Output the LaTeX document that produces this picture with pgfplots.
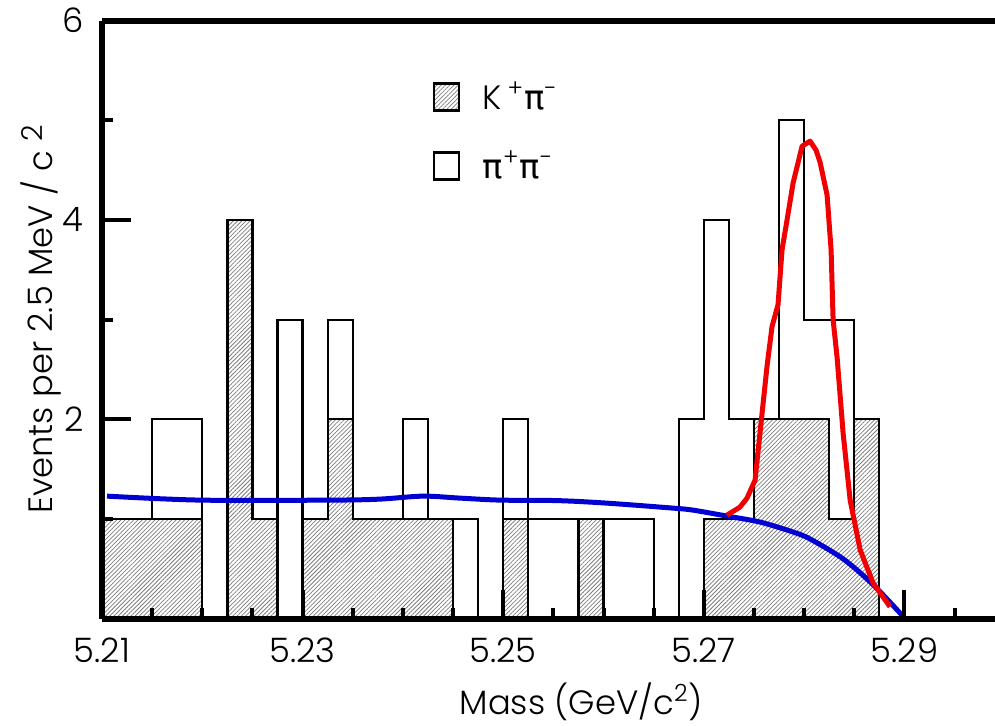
\documentclass[border=0pt]{standalone}
\usepackage{fontspec}
\setmainfont{Poppins Light}
\newfontfamily\grk{DejaVu Sans}
\usepackage{graphicx}
\usepackage{pgfplots}
\pgfplotsset{compat=1.18}
\usetikzlibrary{patterns.meta}
\definecolor{hatch}{RGB}{125,125,125}
\definecolor{fitred}{RGB}{240,0,0}
\definecolor{bkgblue}{RGB}{0,0,210}
\newcommand\fs{\fontsize{13.5}{15}\selectfont}
\tikzset{hatched/.style={pattern={Lines[angle=45,distance=1.2pt,line width=0.3pt]}, pattern color=hatch}}

\begin{document}
\begin{tikzpicture}
\useasboundingbox (-40.8pt,-42.8pt) rectangle (357.2pt,247.5pt);
\begin{axis}[
  scale only axis, width=359.07pt, height=239.3pt,
  xmin=5.21, xmax=5.2995, ymin=0, ymax=6,
  axis x line*=box, axis y line*=left,
  axis line style={line width=2.4pt},
  axis on top,
  xtick={5.21,5.23,5.25,5.27,5.29},
  xticklabels={5.21,5.23,5.25,5.27,5.29},
  minor xtick={5.215,5.22,5.225,5.235,5.24,5.245,5.255,5.26,5.265,5.275,5.28,5.285,5.295},
  ytick={2,4,6}, minor ytick={1,3,5},
  xtick pos=left, ytick pos=left,
  tick align=inside,
  major tick length=11.5pt, minor tick length=4.5pt,
  tick style={black, line width=1.6pt},
  tick label style={font=\fs, /pgf/number format/assume math mode=true, inner sep=0pt},
  xticklabel style={anchor=base, yshift=-17.6pt},
  yticklabel style={anchor=east, xshift=-7.2pt},
  xlabel={Mass (GeV/c\textsuperscript{2})},
  xlabel style={at={(axis description cs:0.534,0)}, anchor=base, yshift=-38.4pt, font=\fs, inner sep=0pt},
  ylabel={Events per 2.5 MeV / c\ \raisebox{0.5ex}{\fontsize{11.5}{13}\selectfont 2}},
  ylabel style={at={(axis description cs:-0.0683,0.5)}, anchor=center, font=\fs, inner sep=0pt},
  legend style={draw=none, fill=none, at={(axis description cs:0.368,0.907)}, anchor=north west,
    inner sep=0pt, font=\fs, row sep=11pt, column sep=7pt},
  legend cell align=left,
]
% K+ pi- (hatched)
\addplot[hatched, draw=black, line width=0.9pt, const plot, forget plot] coordinates {
(5.2100,1) (5.2125,1) (5.2150,1) (5.2175,1) (5.2200,0) (5.2225,4) (5.2250,1) (5.2275,0)
(5.2300,1) (5.2325,2) (5.2350,1) (5.2375,1) (5.2400,1) (5.2425,1) (5.2450,0) (5.2475,0)
(5.2500,1) (5.2525,0) (5.2550,0) (5.2575,1) (5.2600,0) (5.2625,0) (5.2650,0) (5.2675,0)
(5.2700,1) (5.2725,1) (5.2750,2) (5.2775,2) (5.2800,2) (5.2825,1) (5.2850,2) (5.2875,0)
(5.2900,0)} \closedcycle;
% total (K pi + pi pi), open
\addplot[draw=black, line width=0.9pt, const plot, forget plot] coordinates {
(5.2100,1) (5.2125,1) (5.2150,2) (5.2175,2) (5.2200,0) (5.2225,4) (5.2250,1) (5.2275,3)
(5.2300,1) (5.2325,3) (5.2350,1) (5.2375,1) (5.2400,2) (5.2425,1) (5.2450,1) (5.2475,0)
(5.2500,2) (5.2525,1) (5.2550,1) (5.2575,1) (5.2600,1) (5.2625,1) (5.2650,0) (5.2675,2)
(5.2700,4) (5.2725,2) (5.2750,2) (5.2775,5) (5.2800,3) (5.2825,3) (5.2850,2) (5.2875,0)
(5.2900,0)};
% background
\addplot[bkgblue, line width=2pt, smooth, forget plot] coordinates {
(5.2105,1.23) (5.2198,1.19) (5.2330,1.19) (5.2377,1.20) (5.2420,1.23) (5.2457,1.21)
(5.2497,1.19) (5.2554,1.185) (5.2603,1.16) (5.2669,1.11) (5.2689,1.09) (5.2723,1.03)
(5.2756,0.97) (5.2789,0.87) (5.2806,0.80) (5.2839,0.60) (5.2869,0.34) (5.2899,0.02)};
% signal + background fit
\addplot[fitred, line width=2pt, line join=round, forget plot] coordinates {
(5.27231,1.04) (5.27361,1.12) (5.27431,1.21) (5.27511,1.39) (5.27560,1.86) (5.27630,2.53)
(5.27680,2.93) (5.27740,3.15) (5.27780,3.70) (5.27830,4.00) (5.27890,4.37) (5.27980,4.74)
(5.28059,4.79) (5.28119,4.70) (5.28159,4.58) (5.28229,4.25) (5.28269,3.70) (5.28289,3.00)
(5.28329,2.62) (5.28389,1.86) (5.28459,1.19) (5.28559,0.69) (5.28687,0.36) (5.28857,0.12)};
\addlegendimage{legend image code/.code={\draw[hatched, draw=black, line width=1pt] (0pt,-5.2pt) rectangle (10pt,5.6pt);}}
\addlegendentry{K\,\textsuperscript{+}{\grk π}\textsuperscript{-}}
\addlegendimage{legend image code/.code={\draw[black, line width=1pt] (0pt,-5.2pt) rectangle (10pt,5.6pt);}}
\addlegendentry{{\grk π}\textsuperscript{+}{\grk π}\textsuperscript{-}}
\end{axis}
\end{tikzpicture}
\end{document}
